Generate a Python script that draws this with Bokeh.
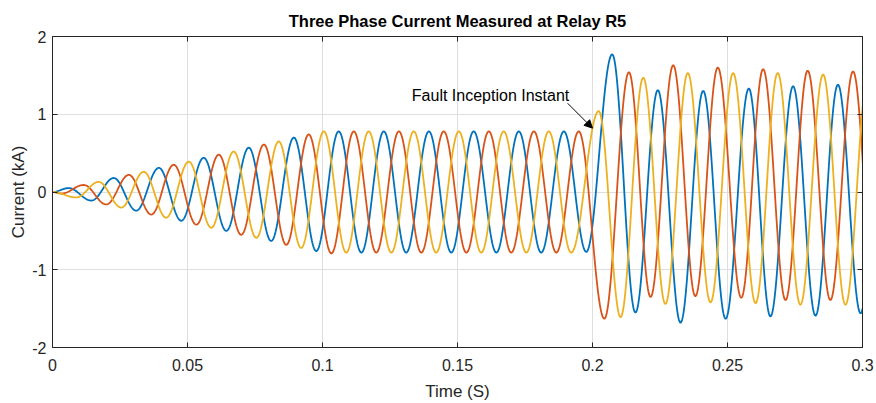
import numpy as np
from bokeh.plotting import figure
from bokeh.models import (FixedTicker, LinearAxis, Range1d, Arrow, NormalHead, Label,
                          CustomJSTickFormatter)
from bokeh.embed import file_html
from bokeh.resources import INLINE

# Peak / trough instants (s) and the current at each of them (kA), per phase
phase_a_t = [0.0060, 0.0144, 0.0227, 0.0310, 0.0394, 0.0477, 0.0560, 0.0644,
             0.0727, 0.0810, 0.0894, 0.0977, 0.1060, 0.1144, 0.1227, 0.1310,
             0.1394, 0.1477, 0.1560, 0.1644, 0.1727, 0.1810, 0.1894, 0.1977,
             0.2073, 0.2159, 0.2242, 0.2326, 0.2410, 0.2493, 0.2579, 0.2659,
             0.2743, 0.2826, 0.2909, 0.2993, 0.3076]
phase_a_i = [0.05, -0.11, 0.18, -0.24, 0.31, -0.37, 0.44, -0.50,
             0.57, -0.63, 0.70, -0.76, 0.78, -0.78, 0.78, -0.78,
             0.78, -0.78, 0.78, -0.78, 0.78, -0.78, 0.78, -0.77,
             1.77, -1.55, 1.31, -1.68, 1.30, -1.63, 1.33, -1.60,
             1.36, -1.59, 1.38, -1.56, 1.38]

phase_b_t = [0.0033, 0.0116, 0.0199, 0.0283, 0.0366, 0.0449, 0.0533, 0.0616,
             0.0699, 0.0783, 0.0866, 0.0949, 0.1033, 0.1116, 0.1199, 0.1283,
             0.1366, 0.1449, 0.1533, 0.1616, 0.1699, 0.1783, 0.1866, 0.1949,
             0.2044, 0.2135, 0.2215, 0.2299, 0.2381, 0.2464, 0.2551, 0.2632,
             0.2715, 0.2797, 0.2881, 0.2965, 0.3048]
phase_b_i = [-0.02, 0.09, -0.16, 0.22, -0.29, 0.35, -0.42, 0.48,
             -0.55, 0.61, -0.68, 0.74, -0.79, 0.78, -0.78, 0.78,
             -0.78, 0.78, -0.78, 0.78, -0.78, 0.78, -0.78, 0.78,
             -1.63, 1.54, -1.35, 1.63, -1.34, 1.60, -1.36, 1.58,
             -1.39, 1.56, -1.39, 1.55, -1.39]

phase_c_t = [0.0088, 0.0171, 0.0255, 0.0338, 0.0421, 0.0505, 0.0588, 0.0671,
             0.0755, 0.0838, 0.0921, 0.1005, 0.1088, 0.1171, 0.1255, 0.1338,
             0.1421, 0.1505, 0.1588, 0.1671, 0.1755, 0.1838, 0.1921,
             0.2023, 0.2104, 0.2188, 0.2270, 0.2353, 0.2437, 0.2521, 0.2604,
             0.2686, 0.2770, 0.2854, 0.2937, 0.3021]
phase_c_i = [-0.07, 0.13, -0.20, 0.26, -0.33, 0.39, -0.46, 0.52,
             -0.59, 0.65, -0.72, 0.78, -0.78, 0.78, -0.78, 0.78,
             -0.78, 0.78, -0.78, 0.78, -0.78, 0.78, -0.78,
             1.04, -1.61, 1.47, -1.44, 1.53, -1.42, 1.53, -1.43,
             1.53, -1.45, 1.51, -1.45, 1.51]

fault_time = 0.2

x_ticks = [0, 0.05, 0.1, 0.15, 0.2, 0.25, 0.3]
x_tick_labels = ["0", "0.05", "0.1", "0.15", "0.2", "0.25", "0.3"]
y_ticks = [-2, -1, 0, 1, 2]
y_tick_labels = ["-2", "-1", "0", "1", "2"]

FONT = "Liberation Sans"
INK = "#262626"
COLORS = ["#0072BD", "#D95319", "#EDB120"]


def waveform(t_ext, i_ext, n=40):
    """Join successive extrema with half-cosine arcs, starting from rest at t=0."""
    t_nodes = [0.0] + list(t_ext)
    i_nodes = [0.0] + list(i_ext)
    ts, ys = [], []
    s = np.linspace(0.0, 1.0, n, endpoint=False)
    for k in range(len(t_nodes) - 1):
        t0, t1 = t_nodes[k], t_nodes[k + 1]
        i0, i1 = i_nodes[k], i_nodes[k + 1]
        ts.append(t0 + (t1 - t0) * s)
        ys.append(0.5 * (i0 + i1) + 0.5 * (i0 - i1) * np.cos(np.pi * s))
    ts.append(np.array([t_nodes[-1]]))
    ys.append(np.array([i_nodes[-1]]))
    return np.concatenate(ts), np.concatenate(ys)


p = figure(width=876, height=403, output_backend="svg", toolbar_location=None,
           x_range=Range1d(0, 0.3), y_range=Range1d(-2, 2),
           min_border_left=52, min_border_right=14,
           min_border_top=36, min_border_bottom=56,
           background_fill_color="white", border_fill_color="white")

p.title.text = "Three Phase Current Measured at Relay R5"
p.title.align = "center"
p.title.text_font = FONT
p.title.text_font_size = "16.5px"
p.title.text_font_style = "bold"
p.title.text_color = "black"
p.title.standoff = 14

p.outline_line_color = INK
p.outline_line_width = 1

for phase_t, phase_i, color in [(phase_a_t, phase_a_i, COLORS[0]),
                                (phase_b_t, phase_b_i, COLORS[1]),
                                (phase_c_t, phase_c_i, COLORS[2])]:
    t, i = waveform(phase_t, phase_i)
    p.line(t, i, line_color=color, line_width=1.8)

# annotate the fault instant on phase C
tc, ic = waveform(phase_c_t, phase_c_i)
tip_y = float(np.interp(fault_time, tc, ic))
p.add_layout(Arrow(end=NormalHead(size=8, fill_color="black", line_color="black"),
                   x_start=fault_time - 0.0092, y_start=tip_y + 0.32,
                   x_end=fault_time, y_end=tip_y,
                   line_color="black", line_width=1))
p.add_layout(Label(x=fault_time - 0.0086, y=tip_y + 0.42,
                   text="Fault Inception Instant", text_align="right",
                   text_baseline="middle", text_font=FONT,
                   text_font_size="16px", text_color="black"))

# main axes
xa, ya = p.xaxis[0], p.yaxis[0]
xa.ticker = FixedTicker(ticks=x_ticks)
ya.ticker = FixedTicker(ticks=y_ticks)
xa.major_label_overrides = dict(zip(x_ticks, x_tick_labels))
ya.major_label_overrides = dict(zip(y_ticks, y_tick_labels))
xa.axis_label = "Time (S)"
ya.axis_label = "Current (kA)"
for ax in (xa, ya):
    ax.axis_line_color = INK
    ax.major_tick_line_color = INK
    ax.major_tick_in = 5
    ax.major_tick_out = 0
    ax.minor_tick_line_color = None
    ax.major_label_text_font = FONT
    ax.major_label_text_font_size = "16px"
    ax.major_label_text_color = INK
    ax.axis_label_text_font = FONT
    ax.axis_label_text_font_size = "17px"
    ax.axis_label_text_font_style = "normal"
    ax.axis_label_text_color = INK
xa.major_label_standoff = 11
xa.axis_label_standoff = 8
ya.major_label_standoff = 6
ya.axis_label_standoff = 1

# mirrored tick marks on the top and right edges of the box
for side, ticks in (("above", x_ticks), ("right", y_ticks)):
    ax = LinearAxis(ticker=FixedTicker(ticks=ticks),
                    formatter=CustomJSTickFormatter(code="return ''"),
                    major_label_standoff=0,
                    axis_line_color=INK, major_tick_line_color=INK,
                    major_tick_in=5, major_tick_out=0, minor_tick_line_color=None)
    p.add_layout(ax, side)

p.grid.grid_line_color = "#dedede"
p.grid.grid_line_width = 1
p.xgrid.ticker = FixedTicker(ticks=x_ticks)
p.ygrid.ticker = FixedTicker(ticks=y_ticks)

open("out.html", "w").write(file_html(p, INLINE))
